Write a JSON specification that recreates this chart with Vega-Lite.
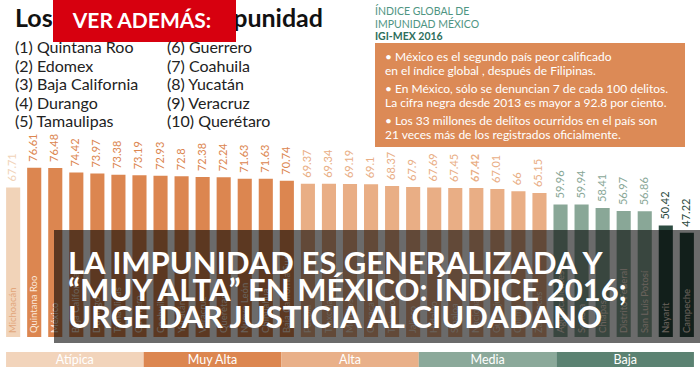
{
  "$schema": "https://vega.github.io/schema/vega-lite/v6.json",
  "width": 700,
  "height": 370,
  "autosize": {"type": "fit", "contains": "padding"},
  "padding": 0,
  "background": "white",
  "config": {"view": {"stroke": null}, "font": "Lato", "text": {"font": "Lato"}},
  "layer": [
    {
      "data": {"values": [
        {"estado": "Michoacán", "valor": 67.71, "nivel": "Atípica"},
        {"estado": "Quintana Roo", "valor": 76.61, "nivel": "Muy Alta"},
        {"estado": "México", "valor": 76.48, "nivel": "Muy Alta"},
        {"estado": "Baja California", "valor": 74.42, "nivel": "Muy Alta"},
        {"estado": "Durango", "valor": 73.97, "nivel": "Muy Alta"},
        {"estado": "Tamaulipas", "valor": 73.38, "nivel": "Muy Alta"},
        {"estado": "Guerrero", "valor": 73.19, "nivel": "Muy Alta"},
        {"estado": "Coahuila", "valor": 72.93, "nivel": "Muy Alta"},
        {"estado": "Yucatán", "valor": 72.8, "nivel": "Muy Alta"},
        {"estado": "Veracruz", "valor": 72.38, "nivel": "Muy Alta"},
        {"estado": "Querétaro", "valor": 72.24, "nivel": "Muy Alta"},
        {"estado": "Nuevo León", "valor": 71.63, "nivel": "Muy Alta"},
        {"estado": "Chihuahua", "valor": 71.63, "nivel": "Muy Alta"},
        {"estado": "Baja California Sur", "valor": 70.74, "nivel": "Muy Alta"},
        {"estado": "Puebla", "valor": 69.37, "nivel": "Alta"},
        {"estado": "Tlaxcala", "valor": 69.34, "nivel": "Alta"},
        {"estado": "Morelos", "valor": 69.19, "nivel": "Alta"},
        {"estado": "Oaxaca", "valor": 69.1, "nivel": "Alta"},
        {"estado": "Tabasco", "valor": 68.37, "nivel": "Alta"},
        {"estado": "Jalisco", "valor": 67.9, "nivel": "Alta"},
        {"estado": "Hidalgo", "valor": 67.69, "nivel": "Alta"},
        {"estado": "Sinaloa", "valor": 67.45, "nivel": "Alta"},
        {"estado": "Nacional", "valor": 67.42, "nivel": "Alta"},
        {"estado": "Guanajuato", "valor": 67.01, "nivel": "Alta"},
        {"estado": "Colima", "valor": 66, "nivel": "Alta"},
        {"estado": "Zacatecas", "valor": 65.15, "nivel": "Alta"},
        {"estado": "Aguascalientes", "valor": 59.96, "nivel": "Media"},
        {"estado": "Sonora", "valor": 59.94, "nivel": "Media"},
        {"estado": "Chiapas", "valor": 58.41, "nivel": "Media"},
        {"estado": "Distrito Federal", "valor": 56.97, "nivel": "Media"},
        {"estado": "San Luis Potosí", "valor": 56.86, "nivel": "Media"},
        {"estado": "Nayarit", "valor": 50.42, "nivel": "Baja"},
        {"estado": "Campeche", "valor": 47.22, "nivel": "Baja"}
      ]},
      "encoding": {
        "x": {"field": "estado", "type": "nominal", "sort": null, "axis": null,
              "scale": {"paddingInner": 0.33, "paddingOuter": 0.29}},
        "y": {"field": "valor", "type": "quantitative", "axis": null,
              "scale": {"domain": [-14.93, 152.5], "nice": false, "zero": false}},
        "color": {"field": "nivel", "type": "nominal", "legend": null,
                  "scale": {"domain": ["Atípica", "Muy Alta", "Alta", "Media", "Baja"],
                            "range": ["#f1d3b8", "#dc8650", "#e9ae85", "#89a797", "#2d4b41"]}}
      },
      "layer": [
        {"mark": {"type": "bar"}, "encoding": {"y2": {"datum": 0}}},
        {"transform": [{"filter": "datum.estado !== 'Nacional'"}],
         "mark": {"type": "text", "angle": 270, "align": "left", "baseline": "middle", "dx": 6, "fontSize": 11},
         "encoding": {"text": {"field": "valor", "type": "nominal"}}},
        {"transform": [{"filter": "datum.estado === 'Nacional'"}],
         "mark": {"type": "text", "angle": 270, "align": "left", "baseline": "middle", "dx": 6, "fontSize": 11, "fontWeight": "bold"},
         "encoding": {"text": {"field": "valor", "type": "nominal"}}},
        {"mark": {"type": "text", "angle": 270, "align": "left", "baseline": "middle", "dx": 4, "fontSize": 9.5},
         "encoding": {"y": {"datum": 0}, "text": {"field": "estado", "type": "nominal"},
                      "color": {"condition": {"test": "datum.nivel === 'Atípica'", "value": "#e2a67b"}, "value": "#fbe9dc"}}}
      ]
    },
    {
      "data": {"values": [{}]},
      "layer": [
        {"mark": {"type": "text", "text": "Los", "align": "left", "baseline": "alphabetic", "fontSize": 25, "fontWeight": "bold", "color": "#111111"},
         "encoding": {"x": {"datum": 15, "type": "quantitative", "axis": null, "scale": {"domain": [0, 700], "nice": false, "zero": false}},
                      "y": {"datum": 27, "type": "quantitative", "axis": null, "scale": {"domain": [0, 370], "nice": false, "zero": false, "reverse": true}}}},
        {"mark": {"type": "text", "text": "impunidad", "align": "right", "baseline": "alphabetic", "fontSize": 25, "fontWeight": "bold", "color": "#111111"},
         "encoding": {"x": {"datum": 323, "type": "quantitative"}, "y": {"datum": 27, "type": "quantitative"}}},
        {"mark": {"type": "rect", "color": "#d7000f"},
         "encoding": {"x": {"datum": 53, "type": "quantitative"}, "x2": {"datum": 236}, "y": {"datum": 0, "type": "quantitative"}, "y2": {"datum": 42}}},
        {"mark": {"type": "text", "text": "VER ADEMÁS:", "align": "center", "baseline": "alphabetic", "fontSize": 21, "fontWeight": "bold", "color": "white"},
         "encoding": {"x": {"datum": 142, "type": "quantitative"}, "y": {"datum": 28, "type": "quantitative"}}},
        {"mark": {"type": "text", "text": ["(1) Quintana Roo", "(2) Edomex", "(3) Baja California", "(4) Durango", "(5) Tamaulipas"], "align": "left", "baseline": "alphabetic", "fontSize": 16, "lineHeight": 18.5, "color": "#222222"},
         "encoding": {"x": {"datum": 15, "type": "quantitative"}, "y": {"datum": 53, "type": "quantitative"}}},
        {"mark": {"type": "text", "text": ["(6) Guerrero", "(7) Coahuila", "(8) Yucatán", "(9) Veracruz", "(10) Querétaro"], "align": "left", "baseline": "alphabetic", "fontSize": 16, "lineHeight": 18.5, "color": "#222222"},
         "encoding": {"x": {"datum": 167, "type": "quantitative"}, "y": {"datum": 53, "type": "quantitative"}}},
        {"mark": {"type": "text", "text": ["ÍNDICE GLOBAL DE", "IMPUNIDAD MÉXICO"], "align": "left", "baseline": "alphabetic", "fontSize": 10.5, "lineHeight": 12.7, "color": "#4f9582"},
         "encoding": {"x": {"datum": 375, "type": "quantitative"}, "y": {"datum": 15, "type": "quantitative"}}},
        {"mark": {"type": "text", "text": "IGI-MEX 2016", "align": "left", "baseline": "alphabetic", "fontSize": 10.5, "fontWeight": "bold", "color": "#2e6e5c"},
         "encoding": {"x": {"datum": 375, "type": "quantitative"}, "y": {"datum": 40.4, "type": "quantitative"}}},
        {"mark": {"type": "rect", "color": "#dc8a56"},
         "encoding": {"x": {"datum": 375, "type": "quantitative"}, "x2": {"datum": 685}, "y": {"datum": 43, "type": "quantitative"}, "y2": {"datum": 147}}},
        {"mark": {"type": "text", "text": ["• México es el segundo país peor calificado", "en el índice global , después de Filipinas."], "align": "left", "baseline": "alphabetic", "fontSize": 12, "lineHeight": 14.4, "color": "white"},
         "encoding": {"x": {"datum": 385, "type": "quantitative"}, "y": {"datum": 61, "type": "quantitative"}}},
        {"mark": {"type": "text", "text": ["• En México, sólo se denuncian 7 de cada 100 delitos.", "La cifra negra desde 2013 es mayor a 92.8 por ciento."], "align": "left", "baseline": "alphabetic", "fontSize": 12, "lineHeight": 14.4, "color": "white"},
         "encoding": {"x": {"datum": 385, "type": "quantitative"}, "y": {"datum": 93, "type": "quantitative"}}},
        {"mark": {"type": "text", "text": ["• Los 33 millones de delitos ocurridos en el país son", "21 veces más de los registrados oficialmente."], "align": "left", "baseline": "alphabetic", "fontSize": 12, "lineHeight": 14.4, "color": "white"},
         "encoding": {"x": {"datum": 385, "type": "quantitative"}, "y": {"datum": 125, "type": "quantitative"}}},
        {"mark": {"type": "rect", "color": "black", "opacity": 0.58},
         "encoding": {"x": {"datum": 54, "type": "quantitative"}, "x2": {"datum": 700}, "y": {"datum": 230, "type": "quantitative"}, "y2": {"datum": 343}}},
        {"mark": {"type": "text", "text": ["LA IMPUNIDAD ES GENERALIZADA Y", "“MUY ALTA” EN MÉXICO: ÍNDICE 2016;", "URGE DAR JUSTICIA AL CIUDADANO"], "align": "left", "baseline": "alphabetic", "fontSize": 31, "fontWeight": "bold", "lineHeight": 27, "color": "white"},
         "encoding": {"x": {"datum": 68, "type": "quantitative"}, "y": {"datum": 274, "type": "quantitative"}}}
      ]
    },
    {
      "data": {"values": [
        {"nivel": "Atípica"}, {"nivel": "Muy Alta"}, {"nivel": "Alta"}, {"nivel": "Media"}, {"nivel": "Baja"}
      ]},
      "encoding": {
        "x": {"field": "nivel", "type": "nominal", "sort": null, "axis": null,
              "scale": {"paddingInner": 0, "paddingOuter": 0.044}}
      },
      "layer": [
        {"mark": {"type": "bar"},
         "encoding": {
           "y": {"datum": 352, "type": "quantitative", "axis": null, "scale": {"domain": [0, 370], "nice": false, "zero": false, "reverse": true}},
           "y2": {"datum": 367},
           "color": {"field": "nivel", "type": "nominal", "legend": null,
                     "scale": {"domain": ["Atípica", "Muy Alta", "Alta", "Media", "Baja"],
                               "range": ["#f2d4bb", "#dc8650", "#e9b089", "#8ba99a", "#5b8272"]}}
         }},
        {"mark": {"type": "text", "baseline": "middle", "align": "center", "fontSize": 12.5, "color": "white"},
         "encoding": {
           "y": {"datum": 359.5, "type": "quantitative"},
           "text": {"field": "nivel", "type": "nominal"}
         }}
      ]
    }
  ],
  "resolve": {"scale": {"x": "independent", "y": "independent", "color": "independent"}}
}
